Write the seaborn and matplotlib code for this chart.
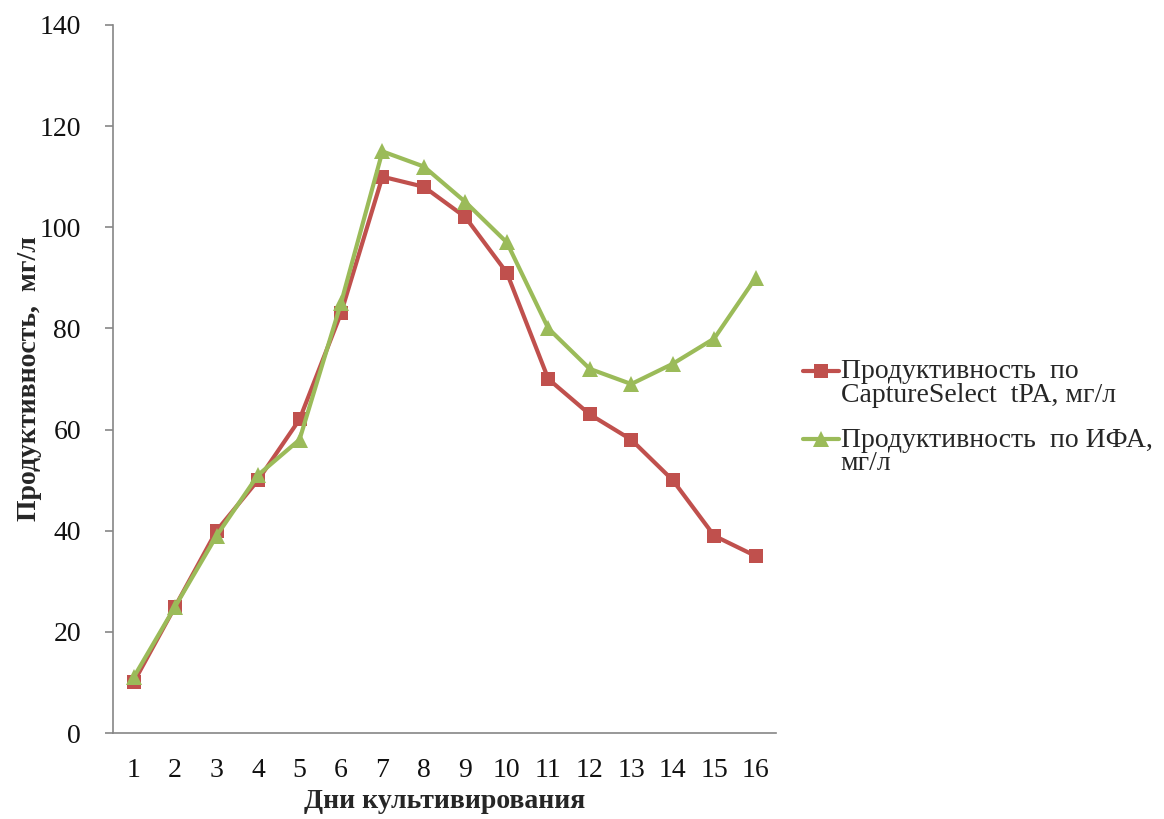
import numpy as np
import pandas as pd
import matplotlib
matplotlib.use("Agg")
import matplotlib.pyplot as plt
import seaborn as sns
from matplotlib.legend_handler import HandlerLine2D

# Culture days and productivity measurements (mg/L)
days = list(range(1, 17))
capture_select = [10, 25, 40, 50, 62, 83, 110, 108, 102, 91, 70, 63, 58, 50, 39, 35]
elisa = [11, 25, 39, 51, 58, 85, 115, 112, 105, 97, 80, 72, 69, 73, 78, 90]

label_cs = "Продуктивность  по\nCaptureSelect  tPA, мг/л"
label_elisa = "Продуктивность  по ИФА,\nмг/л"

x_label = "Дни культивирования"
y_label = "Продуктивность,  мг/л"
y_ticks = [0, 20, 40, 60, 80, 100, 120, 140]

RED = "#C0504D"
GREEN = "#9BBB59"
FS = 20

sns.set_style("white")
plt.rcParams["font.family"] = ["Liberation Serif", "DejaVu Serif"]

df = pd.DataFrame({"day": days, "cs": capture_select, "elisa": elisa})

fig = plt.figure(figsize=(11.64, 8.19), dpi=100)
ax = fig.add_axes([0.097, 0.105, 0.570, 0.8645])

sns.lineplot(data=df, x="day", y="cs", ax=ax, color=RED, marker="s",
             markersize=10.5, markeredgewidth=0, linewidth=3, label=label_cs)
sns.lineplot(data=df, x="day", y="elisa", ax=ax, color=GREEN, marker="^",
             markersize=12, markeredgewidth=0, linewidth=3, label=label_elisa)

ax.set_xlim(0.5, 16.5)
ax.set_ylim(0, 140)
ax.set_xticks(days)
ax.set_xticklabels([str(d) for d in days])
ax.set_yticks(y_ticks)

for side in ("top", "right"):
    ax.spines[side].set_visible(False)
for side in ("left", "bottom"):
    ax.spines[side].set_color("#868686")
    ax.spines[side].set_linewidth(1.2)

ax.tick_params(axis="y", which="both", left=True, length=6, width=1.2,
               color="#868686", pad=17, labelsize=FS, labelcolor="#111111")
ax.tick_params(axis="x", which="both", bottom=False, length=0, pad=18,
               labelsize=FS, labelcolor="#111111")

ax.set_xlabel(x_label, fontsize=FS, fontweight="bold", labelpad=4)
ax.set_ylabel(y_label, fontsize=FS, fontweight="bold", labelpad=-2)


class TopAlignedLine(HandlerLine2D):
    """Place the legend handle level with the first line of a two-line label."""
    def create_artists(self, legend, orig_handle, xdescent, ydescent,
                       width, height, fontsize, trans):
        artists = super().create_artists(legend, orig_handle, xdescent,
                                         ydescent, width, height, fontsize, trans)
        shift = 0.45 * fontsize
        for a in artists:
            a.set_ydata(np.asarray(a.get_ydata(), dtype=float) + shift)
        return artists


handles, labels = ax.get_legend_handles_labels()
leg = ax.legend(handles, labels, loc="center left", bbox_to_anchor=(0.69, 0.49),
                bbox_transform=fig.transFigure, frameon=False,
                fontsize=FS, handlelength=1.3, handletextpad=0.05,
                labelspacing=0.73, borderaxespad=0, borderpad=0,
                handler_map={h: TopAlignedLine() for h in handles})
for t in leg.get_texts():
    t.set_linespacing(0.9)

fig.savefig("out.png", dpi=100, facecolor="white")
